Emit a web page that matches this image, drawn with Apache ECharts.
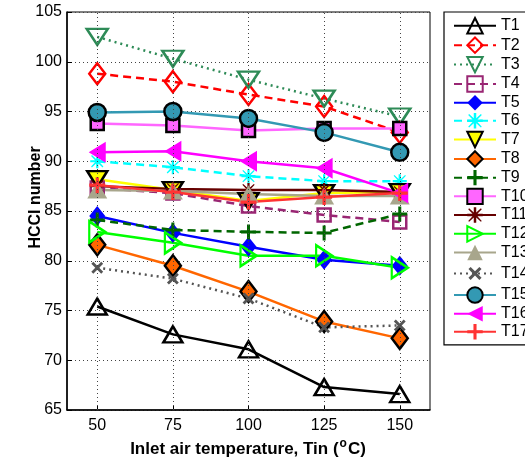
<!DOCTYPE html>
<html><head><meta charset="utf-8">
<script src="https://cdn.jsdelivr.net/npm/echarts@6/dist/echarts.min.js"></script>
<style>html,body{margin:0;padding:0;background:#fff}#c{width:525px;height:461px}</style>
</head><body><div id="c"></div>
<script>
const xVals = [50, 75, 100, 125, 150];
const xTicks = [50, 75, 100, 125, 150];
const yTicks = [65, 70, 75, 80, 85, 90, 95, 100, 105];
const T1  = [75.4, 72.6, 71.1, 67.3, 66.6];
const T2  = [98.8, 98.0, 96.7, 95.5, 92.9];
const T3  = [102.5, 100.3, 98.2, 96.3, 94.5];
const T4  = [87.3, 86.8, 85.5, 84.6, 83.9];
const T5  = [84.5, 82.8, 81.4, 80.1, 79.5];
const T6  = [90.0, 89.4, 88.5, 88.0, 88.0];
const T7  = [88.2, 87.1, 86.0, 86.8, 86.9];
const T8  = [81.6, 79.5, 76.9, 73.9, 72.2];
const T9  = [84.1, 83.1, 82.9, 82.8, 84.7];
const T10 = [93.8, 93.6, 93.1, 93.3, 93.3];
const T11 = [87.5, 87.2, 87.1, 87.1, 86.9];
const T12 = [82.9, 81.8, 80.5, 80.5, 79.3];
const T13 = [87.1, 87.0, 86.7, 86.5, 86.5];
const T14 = [79.3, 78.2, 76.2, 73.3, 73.5];
const T15 = [94.9, 95.0, 94.3, 92.9, 90.9];
const T16 = [90.9, 91.0, 90.0, 89.3, 86.8];
const T17 = [87.6, 86.9, 85.9, 86.4, 86.8];
const names = ['T1','T2','T3','T4','T5','T6','T7','T8','T9','T10','T11','T12','T13','T14','T15','T16','T17'];
const values = [T1,T2,T3,T4,T5,T6,T7,T8,T9,T10,T11,T12,T13,T14,T15,T16,T17];

const FONT = 'Liberation Sans, Arial, Helvetica, sans-serif';
const PLUS = 'path://M4,0H6V4H10V6H6V10H4V6H0V4H4Z';
const AST = 'path://M4.2,0H5.8V3.4L8.8,0.6L9.4,1.2L6.6,4.2H10V5.8H6.6L9.4,8.8L8.8,9.4L5.8,6.6V10H4.2V6.6L1.2,9.4L0.6,8.8L3.4,5.8H0V4.2H3.4L0.6,1.2L1.2,0.6L4.2,3.4Z';
const DASH = [8, 5], DOT = [2, 4];
// style specs: color, line type, symbol, size, rotate, fill, edge
const styles = [
  ['#000000','solid','triangle',[19,16],0,'open',null],
  ['#ff0000',DASH,'diamond',[16,21],0,'open',null],
  ['#2e8b57',DOT,'triangle',[21,16],180,'open',null],
  ['#992673',DASH,'rect',13,0,'open',null],
  ['#0000ff','solid','diamond',[16,20],0,'fill',null],
  ['#00ffff',DASH,AST,14,0,'path',null],
  ['#ffff00','solid','triangle',[20,16],180,'fill','#000'],
  ['#ff6600','solid','diamond',[16,21],0,'fill','#000'],
  ['#006600',DASH,PLUS,15,0,'path',null],
  ['#ff66ff','solid','rect',13,0,'fill','#000'],
  ['#660000','solid',AST,14,0,'path',null],
  ['#00ff00','solid','triangle',[21,16],-90,'open',null],
  ['#a8a68c','solid','triangle',[20,17],0,'fill',null],
  ['#555555',DOT,PLUS,14,45,'path',null],
  ['#3399b3','solid','circle',17,0,'fill','#000'],
  ['#ff00ff','solid','triangle',[21,17],90,'fill',null],
  ['#ff3333','solid',PLUS,16,0,'path',null]
];

const series = names.map((n, i) => {
  const [col, lt, sym, sz, rot, kind, edge] = styles[i];
  let itemStyle;
  if (kind === 'open') itemStyle = {color: 'rgba(255,255,255,0)', borderColor: col, borderWidth: 2.5};
  else if (kind === 'fill') itemStyle = {color: col, borderColor: edge || col, borderWidth: edge ? 2.5 : 0};
  else itemStyle = {color: col, borderWidth: 0};
  return {
    name: n, type: 'line',
    data: xVals.map((x, k) => [x, values[i][k]]),
    symbol: sym, symbolSize: sz, symbolRotate: rot, showAllSymbol: true,
    lineStyle: {color: col, width: 2.5, type: lt},
    itemStyle: itemStyle,
    emphasis: {disabled: true},
    animation: false, z: 2
  };
});
series.unshift({
  name: '_grid', type: 'line', data: [], silent: true, z: 1,
  markLine: {
    silent: true, symbol: 'none', animation: false,
    label: {show: false},
    lineStyle: {color: '#444', width: 1, type: [1, 3]},
    data: xTicks.map(v => ({xAxis: v}))
  }
});

const chart = echarts.init(document.getElementById('c'));
chart.setOption({
  backgroundColor: '#fff',
  animation: false,
  grid: {left: 67, top: 12, right: 95, bottom: 51, show: true, borderColor: '#000', borderWidth: 1},
  xAxis: {
    type: 'value', min: 40, max: 160,
    axisLine: {show: true, onZero: false, lineStyle: {color: '#000', width: 1.5}},
    axisTick: {show: true, inside: true, length: 5, customValues: xTicks, lineStyle: {color: '#000'}},
    axisLabel: {customValues: xTicks, color: '#000', fontSize: 16, fontFamily: FONT, margin: 8},
    splitLine: {show: false}
  },
  yAxis: {
    type: 'value', min: 65, max: 105, interval: 5,
    axisLine: {show: true, onZero: false, lineStyle: {color: '#000', width: 1.5}},
    axisTick: {show: true, inside: true, length: 5, lineStyle: {color: '#000'}},
    axisLabel: {color: '#000', fontSize: 16, fontFamily: FONT, margin: 5},
    splitLine: {show: true, lineStyle: {color: '#444', width: 1, type: [1, 3]}}
  },
  legend: {
    data: names, orient: 'vertical', left: 444, top: 12,
    padding: [5, 40, 5, 9], itemWidth: 42, itemHeight: 19.3, itemGap: 2,
    backgroundColor: '#fff', borderColor: '#000', borderWidth: 1.2,
    textStyle: {color: '#000', fontSize: 16, fontFamily: FONT},
    selectedMode: false
  },
  graphic: [
    {type: 'text', silent: true,
     style: {text: '{b|Inlet air temperature, Tin (}{s|o}{b|C)}', x: 248, y: 449, align: 'center', verticalAlign: 'middle',
       rich: {b: {fontSize: 17, fontWeight: 'bold', fontFamily: FONT, fill: '#000'},
              s: {fontSize: 12, fontWeight: 'bold', fontFamily: FONT, fill: '#000', verticalAlign: 'top', padding: [0,1,10,1]}}}},
    {type: 'text', x: 36, y: 197.5, rotation: Math.PI / 2, silent: true,
     style: {text: 'HCCI number', fontSize: 16, fontWeight: 'bold', fontFamily: FONT, fill: '#000', align: 'center', verticalAlign: 'middle'}}
  ],
  series: series
});
</script></body></html>
